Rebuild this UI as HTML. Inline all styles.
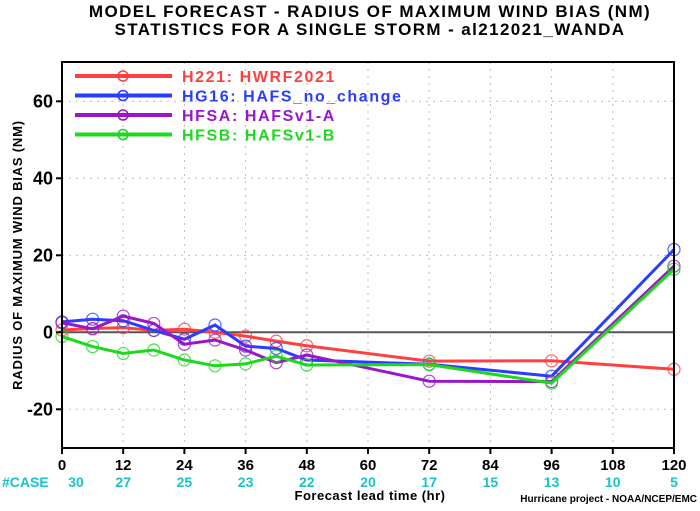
<!DOCTYPE html>
<html><head><meta charset="utf-8"><style>
body{margin:0;background:#fff}
svg text{font-family:"Liberation Sans",sans-serif;font-weight:bold}
</style></head><body>
<svg id="c" width="700" height="506" xmlns="http://www.w3.org/2000/svg">
<text x="370" y="17" text-anchor="middle" font-size="17" letter-spacing="1.4">MODEL FORECAST - RADIUS OF MAXIMUM WIND BIAS (NM)</text>
<text x="370" y="35" text-anchor="middle" font-size="17" letter-spacing="1.4">STATISTICS FOR A SINGLE STORM - al212021_WANDA</text>
<g id="grid"></g>
<g id="series"></g>
<rect x="62" y="62" width="612" height="386" fill="none" stroke="#000" stroke-width="2"/>
<g id="axes"></g>
<text transform="translate(22,255) rotate(-90)" text-anchor="middle" font-size="13" letter-spacing="0.8">RADIUS OF MAXIMUM WIND BIAS (NM)</text>
<text x="370" y="500" text-anchor="middle" font-size="13" letter-spacing="0.5">Forecast lead time (hr)</text>
<text x="697" y="502" text-anchor="end" font-size="10">Hurricane project - NOAA/NCEP/EMC</text>
<text x="2" y="487" font-size="14" fill="#19c3c8">#CASE</text>
<g id="legend"></g>
</svg>
<script>
const xTicks=[0,12,24,36,48,60,72,84,96,108,120];
const yTicks=[60,40,20,0,-20];
const cases=[30,27,25,23,22,20,17,15,13,10,5];
const names=["H221: HWRF2021","HG16: HAFS_no_change","HFSA: HAFSv1-A","HFSB: HAFSv1-B"];
const colors=["#ff4040","#2a3cff","#9a16c8","#1ed81e"];
const hours=[0,6,12,18,24,30,36,42,48,72,96,120];
const h221=[0.6,1,1.2,0.5,0.8,0,-1,-2.3,-3.5,-7.5,-7.4,-9.6];
const hg16=[2.7,3.4,3,0.5,-1.8,1.9,-3.6,-4.2,-7.2,-8.3,-11.4,21.5];
const hfsa=[2.5,0.9,4.2,2.3,-3.1,-2,-4.6,-7.9,-5.9,-12.7,-12.8,17.2];
const hfsb=[-1.1,-3.7,-5.5,-4.6,-7.2,-8.7,-8.2,-6.2,-8.5,-8.4,-13.2,16.4];
const NS="http://www.w3.org/2000/svg";
const X=v=>62+v*612/120, Y=v=>332.3-v*3.85;
function mk(t,a,p){const e=document.createElementNS(NS,t);for(const k in a)e.setAttribute(k,a[k]);p.appendChild(e);return e;}
const grid=document.getElementById('grid'),axes=document.getElementById('axes'),ser=document.getElementById('series'),leg=document.getElementById('legend');
xTicks.forEach((t,i)=>{
 const l=mk('line',{x1:X(t),x2:X(t),y1:62,y2:448,stroke:'#bbb','stroke-dasharray':'2,5'},grid);
 
 
 const k=mk('line',{x1:X(t),x2:X(t),y1:448,y2:454,stroke:'#000','stroke-width':2},axes);
 
 
 const tx=mk('text',{x:X(t),y:470,'text-anchor':'middle','font-size':15},axes);tx.textContent=t;
 
 
 const c=mk('text',{x:i==0?X(t)+14:X(t),y:487,'text-anchor':'middle','font-size':14,fill:'#19c3c8'},axes);c.textContent=cases[i];
 
 
});
yTicks.forEach(t=>{
 const l=mk('line',{x1:62,x2:674,y1:Y(t),y2:Y(t),stroke:t==0?'#555':'#bbb','stroke-width':t==0?2:1,'stroke-dasharray':t==0?'none':'2,5'},grid);
 
 
 const k=mk('line',{x1:56,x2:62,y1:Y(t),y2:Y(t),stroke:'#000','stroke-width':2},axes);
 
 
 const tx=mk('text',{x:53,y:Y(t)+6,'text-anchor':'end','font-size':18},axes);tx.textContent=t;
 
 
});
[h221,hg16,hfsa,hfsb].forEach((d,s)=>{
 const g=mk('g',{},ser);
 
 
 const pl=mk('polyline',{points:d.map((v,i)=>X(hours[i])+','+Y(v)).join(' '),fill:'none',stroke:colors[s],'stroke-width':3},g);
 
 
 d.forEach((v,i)=>{const c=mk('circle',{cx:X(hours[i]),cy:Y(v),r:6,fill:'none',stroke:colors[s],'stroke-width':1.2,opacity:0.8},g);
 
 });
 const y=76+s*19.5;
 const lg=mk('g',{},leg);
 
 
 mk('line',{x1:75,x2:172,y1:y,y2:y,stroke:colors[s],'stroke-width':4},lg);
 mk('circle',{cx:123,cy:y,r:5,fill:'none',stroke:colors[s],'stroke-width':1.5},lg);
 const t=mk('text',{x:182,y:y+6,'font-size':16,'letter-spacing':1.6,fill:colors[s]},lg);t.textContent=names[s];
});
</script>
</body></html>
